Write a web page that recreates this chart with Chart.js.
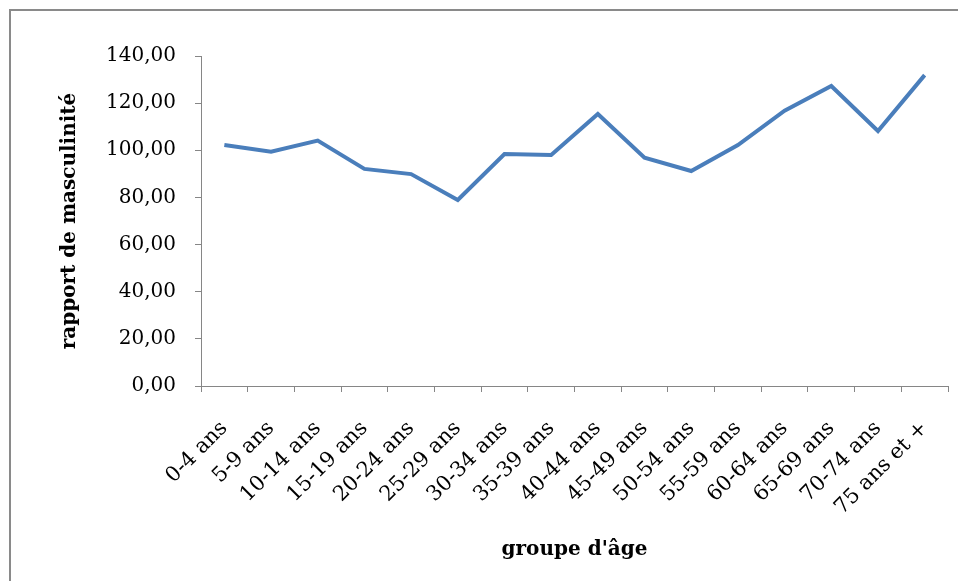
<!DOCTYPE html>
<html>
<head>
<meta charset="utf-8">
<script src="https://cdn.jsdelivr.net/npm/chart.js@4"></script>
<style>
  html, body { margin: 0; padding: 0; background: #fff; }
  #wrap { position: relative; width: 958px; height: 581px; overflow: hidden; }
  #frame { position: absolute; left: 9px; top: 9px; width: 1000px; height: 700px;
           border-top: 2px solid #8a8a8a; border-left: 2px solid #8a8a8a; pointer-events: none; }
  canvas { position: absolute; left: 0; top: 0; }
</style>
</head>
<body>
<div id="wrap">
  <canvas id="c" width="958" height="581"></canvas>
  <div id="frame"></div>
</div>
<script>
const categories = ['0-4 ans','5-9 ans','10-14 ans','15-19 ans','20-24 ans','25-29 ans','30-34 ans','35-39 ans','40-44 ans','45-49 ans','50-54 ans','55-59 ans','60-64 ans','65-69 ans','70-74 ans','75 ans et +'];
const sexRatio = [102.2, 99.4, 104.1, 92.1, 89.9, 78.9, 98.4, 98.0, 115.4, 96.9, 91.2, 102.2, 116.8, 127.3, 108.2, 131.9];
const yTicks = [0, 20, 40, 60, 80, 100, 120, 140];
const yTitle = 'rapport de masculinité';
const xTitle = "groupe d'âge";

const FONT = "'DejaVu Serif', 'Liberation Serif', serif";
const AXIS = '#868686';

new Chart(document.getElementById('c'), {
  type: 'line',
  data: {
    labels: categories,
    datasets: [{
      data: sexRatio,
      borderColor: '#4a7ebb',
      borderWidth: 4,
      pointRadius: 0,
      tension: 0,
      fill: false
    }]
  },
  options: {
    responsive: false,
    animation: false,
    devicePixelRatio: 1,
    plugins: { legend: { display: false }, tooltip: { enabled: false } },
    layout: { padding: { top: 56, right: 10, bottom: 0, left: 0 } },
    scales: {
      x: {
        offset: true,
        grid: { offset: true, display: true, drawOnChartArea: false, drawTicks: true, tickLength: 6, color: AXIS, lineWidth: 1 },
        border: { display: true, color: AXIS, width: 1 },
        ticks: {
          autoSkip: false, minRotation: 45, maxRotation: 45, padding: 24,
          color: '#000', font: { family: FONT, size: 21 }
        },
        title: {
          display: true, text: xTitle, color: '#000',
          font: { family: FONT, size: 20, weight: 'bold' },
          padding: { top: 0, bottom: 19 }
        },
        afterFit: s => { s.height = 195; s.paddingLeft = 0; s.paddingRight = 0; }
      },
      y: {
        min: 0, max: 140,
        afterBuildTicks: s => { s.ticks = yTicks.map(v => ({ value: v })); },
        grid: { display: true, drawOnChartArea: false, drawTicks: true, tickLength: 6, color: AXIS, lineWidth: 1 },
        border: { display: true, color: AXIS, width: 1 },
        ticks: {
          padding: 19, color: '#000', font: { family: FONT, size: 20 },
          callback: v => Number(v).toFixed(2).replace('.', ',')
        },
        title: {
          display: true, text: yTitle, color: '#000',
          font: { family: FONT, size: 20, weight: 'bold' },
          padding: { top: 58, bottom: 0 }
        },
        afterFit: s => { s.width = 201; s.paddingTop = 0; s.paddingBottom = 0; }
      }
    }
  }
});
</script>
</body>
</html>
